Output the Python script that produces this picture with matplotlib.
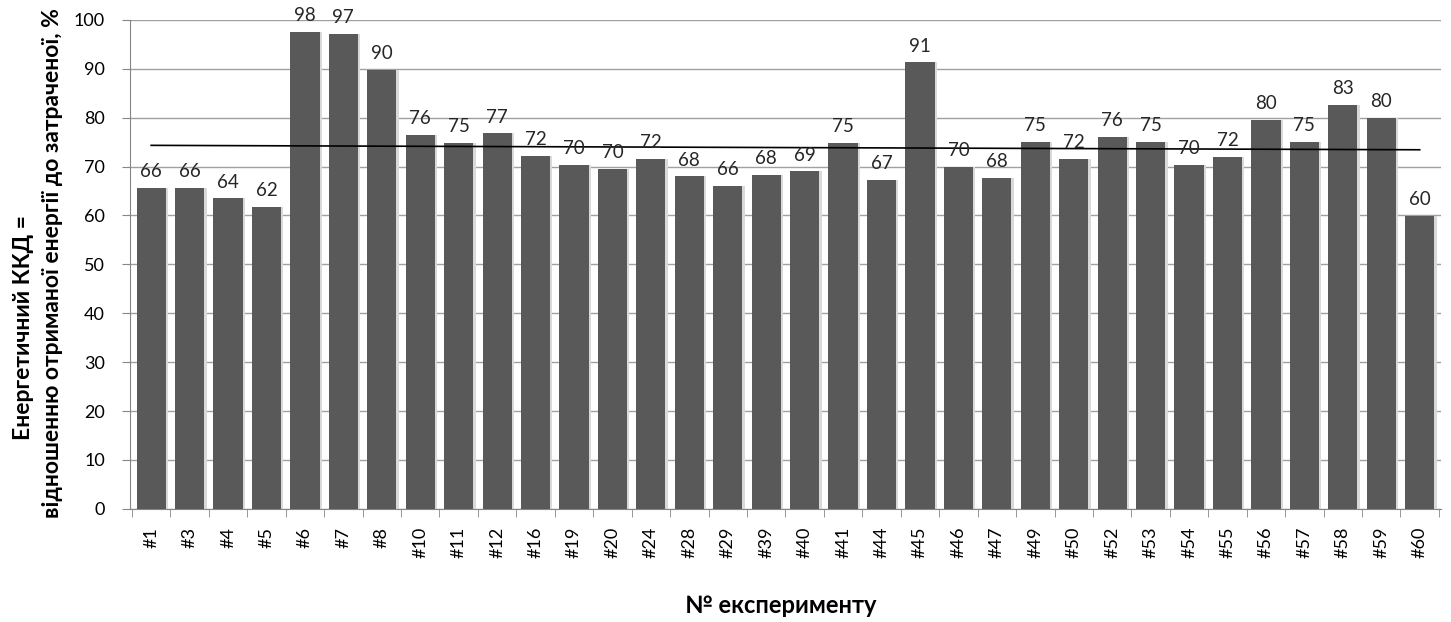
import numpy as np
import matplotlib.pyplot as plt

plt.rcParams['font.family'] = ['Lato', 'DejaVu Sans']

experiments = ['#1', '#3', '#4', '#5', '#6', '#7', '#8', '#10', '#11', '#12', '#16', '#19',
               '#20', '#24', '#28', '#29', '#39', '#40', '#41', '#44', '#45', '#46', '#47',
               '#49', '#50', '#52', '#53', '#54', '#55', '#56', '#57', '#58', '#59', '#60']
kkd = [65.6, 65.7, 63.5, 61.8, 97.5, 97.2, 89.7, 76.4, 74.8, 76.8, 72.2, 70.4,
       69.6, 71.6, 68.0, 66.0, 68.3, 69.0, 74.8, 67.3, 91.3, 69.9, 67.6,
       75.0, 71.6, 76.1, 75.1, 70.3, 71.9, 79.6, 75.1, 82.6, 80.0, 59.9]

x = np.arange(len(experiments))
fig, ax = plt.subplots(figsize=(14.51, 6.22), dpi=100)
fig.subplots_adjust(left=0.0896, right=0.993, bottom=0.182, top=0.968)

ax.bar(x + 0.06, kkd, width=0.76, color='#d9d9d9', zorder=2)
ax.bar(x, kkd, width=0.76, color='#595959', zorder=3)
for xi, v in zip(x, kkd):
    ax.text(xi, v + 1.6, f'{v:.0f}', ha='center', va='bottom', fontsize=13.5, color='#262626', zorder=5)

k, b = np.polyfit(x, kkd, 1)
ax.plot([x[0], x[-1]], [k * x[0] + b, k * x[-1] + b], color='black', lw=1.2, zorder=4)

ax.set_xlim(-0.55, len(x) - 0.45)
ax.set_ylim(0, 100)
ax.set_yticks(range(0, 101, 10))
ax.yaxis.grid(True, color='#a0a0a0', lw=1, zorder=0)
ax.set_axisbelow(True)
ax.set_xticks(x)
ax.set_xticklabels(experiments, rotation=90, fontsize=13)
ax.set_xticks(np.arange(-0.5, len(x)), minor=True)
ax.tick_params(axis='x', which='major', length=0, pad=13)
ax.tick_params(axis='x', which='minor', length=6, color='#868686')
ax.tick_params(axis='y', length=6, pad=12, color='#868686', labelsize=13)
for s in ['top', 'right']:
    ax.spines[s].set_visible(False)
for s in ['left', 'bottom']:
    ax.spines[s].set_color('#868686')

fig.text(0.016, 0.474, 'Енергетичний ККД =', rotation=90, ha='center', va='center',
         fontsize=16.5, fontweight='bold')
fig.text(0.036, 0.577, 'відношенню отриманої енергії до затраченої, %', rotation=90,
         ha='center', va='center', fontsize=16.5, fontweight='bold')
fig.text(0.538, 0.027, '№ експерименту', ha='center', va='center',
         fontsize=17, fontweight='bold')

plt.savefig('out.png', dpi=100)
